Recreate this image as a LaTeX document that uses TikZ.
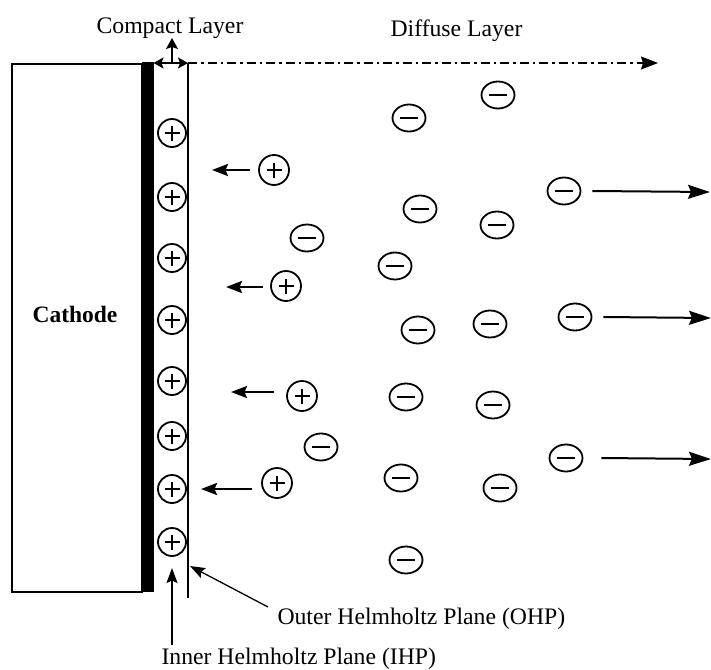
\documentclass[tikz,border=0pt]{standalone}
\usepackage{fontspec}
\setmainfont{Liberation Serif}
\usetikzlibrary{arrows.meta,shapes.geometric}
\begin{document}
\begin{tikzpicture}[x=1pt,y=-1pt,
  every node/.style={font=\fontsize{23.7}{27}\selectfont},
  pion/.style={circle,draw,line width=1.8pt,minimum size=28pt,inner sep=0pt,
    path picture={\draw[line width=1.6pt]
      ([xshift=-7.5pt]path picture bounding box.center) -- ([xshift=7.5pt]path picture bounding box.center)
      ([yshift=-7.5pt]path picture bounding box.center) -- ([yshift=7.5pt]path picture bounding box.center);}},
  fpion/.style={pion,minimum size=30pt},
  nion/.style={ellipse,draw,line width=1.8pt,minimum width=33pt,minimum height=27pt,inner sep=0pt,
    path picture={\draw[line width=2.8pt]
      ([xshift=-9pt]path picture bounding box.center) -- ([xshift=9pt]path picture bounding box.center);}},
  leftarr/.style={line width=2.6pt,-{Stealth[length=16pt,width=12pt,inset=2.5pt]}},
  rightarr/.style={line width=2pt,-{Stealth[length=22pt,width=14pt,inset=3pt]}},
  thinarr/.style={line width=1.3pt,-{Stealth[length=15pt,width=11pt,inset=2.5pt]}},
  lbl/.style={anchor=base}
]
\useasboundingbox (0,0) rectangle (711,669);
% cathode
\node[draw,line width=1.2pt,minimum width=130pt,minimum height=528pt,inner sep=0pt] (cathode) at (77,328) {};
\node[lbl,font=\fontsize{23.5}{27}\selectfont\bfseries] (cathlbl) at (75,322) {Cathode};
\fill (142,62) rectangle (153.5,592);
% OHP line
\coordinate (ohptop) at (188,63);
\coordinate (ohpbot) at (188,598);
\draw[line width=1.5pt] (ohptop) -- (ohpbot);
% compact layer arrows
\coordinate (cl) at (153.5,63);
\coordinate (cm) at (172,63);
\coordinate (ctop) at (172,38);
\draw[line width=1.4pt,{Stealth[length=10pt,width=11pt,inset=2pt]}-{Stealth[length=10pt,width=11pt,inset=2pt]}] (cl) -- (ohptop);
\draw[line width=1.6pt,-{Stealth[length=11pt,width=12pt,inset=2pt]}] (cm) -- (ctop);
\node[lbl] (compact) at (170,33.5) {Compact Layer};
% diffuse layer
\coordinate (dend) at (658,63);
\draw[line width=1.2pt,dash pattern=on 9pt off 4pt on 2.5pt off 4pt,-{Stealth[length=17pt,width=13pt,inset=2pt]}] (ohptop) -- (dend);
\node[lbl] (diffuse) at (456.5,36.5) {Diffuse Layer};
% IHP cations
\foreach \i/\y in {1/133,2/197,3/258,4/320,5/381,6/436,7/489,8/542}
  \node[pion] (ihp\i) at (172,\y) {};
% free cations with arrows
\node[fpion] (fp1) at (274,170) {};
\node[fpion] (fp2) at (286,286) {};
\node[fpion] (fp3) at (302,396) {};
\node[fpion] (fp4) at (277,483) {};
\coordinate (a1s) at (250,170); \coordinate (a1e) at (212,170);
\coordinate (a2s) at (263,287); \coordinate (a2e) at (226,287);
\coordinate (a3s) at (274,392); \coordinate (a3e) at (231,392);
\coordinate (a4s) at (252,489); \coordinate (a4e) at (201,489);
\draw[leftarr] (a1s) -- (a1e);
\draw[leftarr] (a2s) -- (a2e);
\draw[leftarr] (a3s) -- (a3e);
\draw[leftarr] (a4s) -- (a4e);
% anions
\foreach \n/\x/\y in {n1/409/118,n2/498/95,n3/564/191,n4/420/209,n5/497/225,
  n6/307/238,n7/395/266,n8/418/330,n9/490/324,n10/575/317,n11/406/397,
  n12/493/405,n13/321/447,n14/566/458,n15/401/478,n16/500/488,n17/406/560}
  \node[nion] (\n) at (\x,\y) {};
% anion arrows
\coordinate (r1e) at (710,192);
\coordinate (r2e) at (711,318);
\coordinate (r3e) at (711,459);
\draw[rightarr] ([xshift=11pt]n3.east) -- (r1e);
\draw[rightarr] ([xshift=11pt]n10.east) -- (r2e);
\draw[rightarr] ([xshift=18pt]n14.east) -- (r3e);
% labels
\node[lbl,anchor=base west] (ohp) at (274,624) {Outer Helmholtz Plane (OHP)};
\node[lbl,anchor=base west] (ihp) at (158,664) {Inner Helmholtz Plane (IHP)};
\coordinate (ohptip) at (190,566);
\coordinate (ohptail) at (268,607);
\draw[thinarr] (ohptail) -- (ohptip);
\coordinate (ihptail) at (172,645);
\coordinate (ihptip) at (172,568);
\draw[thinarr] (ihptail) -- (ihptip);
\end{tikzpicture}
\end{document}
